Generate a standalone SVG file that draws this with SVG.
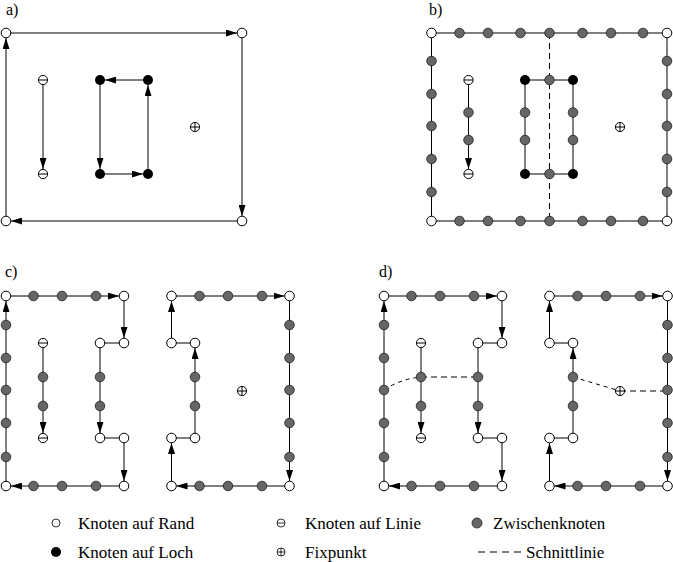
<svg xmlns="http://www.w3.org/2000/svg" xmlns:xlink="http://www.w3.org/1999/xlink" width="673" height="562" viewBox="0 0 673 562">
<style>
.l{stroke:#000;stroke-width:1;fill:none}
.a{marker-end:url(#ah)}
.d{stroke-dasharray:6 4}
.t{font-family:"Liberation Serif","Times New Roman",serif;font-size:17px;fill:#000}
.p{font-family:"Liberation Serif","Times New Roman",serif;font-size:16px;fill:#000}
</style>
<defs>
<marker id="ah" markerUnits="userSpaceOnUse" markerWidth="11" markerHeight="7" refX="11" refY="3.5" orient="auto"><path d="M0,0 L11,3.5 L0,7 z" fill="#000"/></marker>
<circle id="nw" r="4.8" fill="#fff" stroke="#000"/>
<circle id="ng" r="4.8" fill="#666" stroke="#222" stroke-width="0.8"/>
<circle id="nb" r="5" fill="#000"/>
<g id="nm"><circle r="4.6" fill="#fff" stroke="#000"/><path d="M-4.6,0H4.6" stroke="#000"/></g>
<g id="nf"><circle r="4.6" fill="#fff" stroke="#000"/><path d="M-4.6,0H4.6M0,-4.6V4.6" stroke="#000"/></g>
</defs>
<rect width="673" height="562" fill="#fff"/>

<g id="labels">
<text class="p" x="6" y="15">a)</text>
<text class="p" x="429" y="15">b)</text>
<text class="p" x="5" y="277">c)</text>
<text class="p" x="379" y="277">d)</text>
</g>

<g id="connectors">
<!-- a -->
<path class="l a" d="M6,33 H237"/>
<path class="l a" d="M242,33 V216"/>
<path class="l a" d="M242,221 H11"/>
<path class="l a" d="M6,221 V38"/>
<path class="l a" d="M43,80 V169"/>
<path class="l a" d="M148,80 H105"/>
<path class="l a" d="M100,80 V169"/>
<path class="l a" d="M100,174 H143"/>
<path class="l a" d="M148,174 V85"/>
<!-- b -->
<path class="l" d="M431.5,33 H667 V221 H431.5 Z"/>
<path class="l" d="M525,80 H573 V174 H525 Z"/>
<path class="l a" d="M468.5,80 V169"/>
<path class="l d" d="M549.5,33 V221"/>
<!-- c left -->
<path class="l a" d="M6,296 H119"/>
<path class="l a" d="M124,296 V338"/>
<path class="l" d="M124,343 H100"/>
<path class="l a" d="M100,343 V433"/>
<path class="l" d="M100,438 H124"/>
<path class="l a" d="M124,438 V481"/>
<path class="l a" d="M124,486 H11"/>
<path class="l a" d="M6,486 V301"/>
<path class="l a" d="M43,343 V433"/>
<!-- c right -->
<path class="l a" d="M171.5,296 H284.5"/>
<path class="l a" d="M289.5,296 V481"/>
<path class="l a" d="M289.5,486 H176.5"/>
<path class="l a" d="M171.5,486 V443"/>
<path class="l" d="M171.5,438 H195"/>
<path class="l a" d="M195,438 V348"/>
<path class="l" d="M195,343 H171.5"/>
<path class="l a" d="M171.5,343 V301"/>
<!-- d left -->
<path class="l a" d="M384,296 H497"/>
<path class="l a" d="M502,296 V338"/>
<path class="l" d="M502,343 H478"/>
<path class="l a" d="M478,343 V433"/>
<path class="l" d="M478,438 H502"/>
<path class="l a" d="M502,438 V481"/>
<path class="l a" d="M502,486 H389"/>
<path class="l a" d="M384,486 V301"/>
<path class="l a" d="M421,343 V433"/>
<!-- d right -->
<path class="l a" d="M549.5,296 H662.5"/>
<path class="l a" d="M667.5,296 V481"/>
<path class="l a" d="M667.5,486 H554.5"/>
<path class="l a" d="M549.5,486 V443"/>
<path class="l" d="M549.5,438 H573"/>
<path class="l a" d="M573,438 V348"/>
<path class="l" d="M573,343 H549.5"/>
<path class="l a" d="M549.5,343 V301"/>
<!-- d cut lines -->
<path class="l" stroke-dasharray="4 4" d="M384,390 Q400,379 421,377"/>
<path class="l d" d="M421,377 H478"/>
<path class="l" stroke-dasharray="4 4" d="M573,377 L620,391"/>
<path class="l d" d="M620,391 H667.5"/>
<!-- legend -->
<path class="l" stroke-dasharray="7 5" d="M478,552 H522"/>
</g>

<g id="panel-a">
<g id="a_tl"><use xlink:href="#nw" x="6" y="33"/></g>
<g id="a_tr"><use xlink:href="#nw" x="242" y="33"/></g>
<g id="a_bl"><use xlink:href="#nw" x="6" y="221"/></g>
<g id="a_br"><use xlink:href="#nw" x="242" y="221"/></g>
<g id="a_m1"><use xlink:href="#nm" x="43" y="80"/></g>
<g id="a_m2"><use xlink:href="#nm" x="43" y="174"/></g>
<g id="a_h1"><use xlink:href="#nb" x="100" y="80"/></g>
<g id="a_h2"><use xlink:href="#nb" x="148" y="80"/></g>
<g id="a_h3"><use xlink:href="#nb" x="100" y="174"/></g>
<g id="a_h4"><use xlink:href="#nb" x="148" y="174"/></g>
<g id="a_f"><use xlink:href="#nf" x="195" y="127"/></g>
</g>

<g id="panel-b">
<g id="b_tl"><use xlink:href="#nw" x="431.5" y="33"/></g>
<g id="b_tr"><use xlink:href="#nw" x="667" y="33"/></g>
<g id="b_bl"><use xlink:href="#nw" x="431.5" y="221"/></g>
<g id="b_br"><use xlink:href="#nw" x="667" y="221"/></g>
<g id="b_t1"><use xlink:href="#ng" x="459.5" y="33"/></g>
<g id="b_t2"><use xlink:href="#ng" x="488" y="33"/></g>
<g id="b_t3"><use xlink:href="#ng" x="520.5" y="33"/></g>
<g id="b_t4"><use xlink:href="#ng" x="549.5" y="33"/></g>
<g id="b_t5"><use xlink:href="#ng" x="582.5" y="33"/></g>
<g id="b_t6"><use xlink:href="#ng" x="611" y="33"/></g>
<g id="b_t7"><use xlink:href="#ng" x="643" y="33"/></g>
<g id="b_b1"><use xlink:href="#ng" x="459.5" y="221"/></g>
<g id="b_b2"><use xlink:href="#ng" x="488" y="221"/></g>
<g id="b_b3"><use xlink:href="#ng" x="520.5" y="221"/></g>
<g id="b_b4"><use xlink:href="#ng" x="549.5" y="221"/></g>
<g id="b_b5"><use xlink:href="#ng" x="582.5" y="221"/></g>
<g id="b_b6"><use xlink:href="#ng" x="611" y="221"/></g>
<g id="b_b7"><use xlink:href="#ng" x="643" y="221"/></g>
<g id="b_l1"><use xlink:href="#ng" x="431.5" y="61"/></g>
<g id="b_l2"><use xlink:href="#ng" x="431.5" y="94"/></g>
<g id="b_l3"><use xlink:href="#ng" x="431.5" y="126"/></g>
<g id="b_l4"><use xlink:href="#ng" x="431.5" y="159"/></g>
<g id="b_l5"><use xlink:href="#ng" x="431.5" y="192"/></g>
<g id="b_r1"><use xlink:href="#ng" x="667" y="61"/></g>
<g id="b_r2"><use xlink:href="#ng" x="667" y="94"/></g>
<g id="b_r3"><use xlink:href="#ng" x="667" y="126"/></g>
<g id="b_r4"><use xlink:href="#ng" x="667" y="159"/></g>
<g id="b_r5"><use xlink:href="#ng" x="667" y="192"/></g>
<g id="b_m1"><use xlink:href="#nm" x="468.5" y="80"/></g>
<g id="b_m2"><use xlink:href="#nm" x="468.5" y="174"/></g>
<g id="b_lg1"><use xlink:href="#ng" x="468.5" y="112.5"/></g>
<g id="b_lg2"><use xlink:href="#ng" x="468.5" y="140"/></g>
<g id="b_h1"><use xlink:href="#nb" x="525" y="80"/></g>
<g id="b_h2"><use xlink:href="#nb" x="573" y="80"/></g>
<g id="b_h3"><use xlink:href="#nb" x="525" y="174"/></g>
<g id="b_h4"><use xlink:href="#nb" x="573" y="174"/></g>
<g id="b_hg1"><use xlink:href="#ng" x="549.5" y="80"/></g>
<g id="b_hg2"><use xlink:href="#ng" x="549.5" y="174"/></g>
<g id="b_hg3"><use xlink:href="#ng" x="525" y="112.5"/></g>
<g id="b_hg4"><use xlink:href="#ng" x="525" y="140"/></g>
<g id="b_hg5"><use xlink:href="#ng" x="573" y="112.5"/></g>
<g id="b_hg6"><use xlink:href="#ng" x="573" y="140"/></g>
<g id="b_f"><use xlink:href="#nf" x="620" y="127"/></g>
</g>

<g id="panel-c">
<g id="c_tl"><use xlink:href="#nw" x="6" y="296"/></g>
<g id="c_tr"><use xlink:href="#nw" x="124" y="296"/></g>
<g id="c_bl"><use xlink:href="#nw" x="6" y="486"/></g>
<g id="c_br"><use xlink:href="#nw" x="124" y="486"/></g>
<g id="c_t1"><use xlink:href="#ng" x="33.5" y="296"/></g>
<g id="c_t2"><use xlink:href="#ng" x="62" y="296"/></g>
<g id="c_t3"><use xlink:href="#ng" x="96" y="296"/></g>
<g id="c_b1"><use xlink:href="#ng" x="33.5" y="486"/></g>
<g id="c_b2"><use xlink:href="#ng" x="62" y="486"/></g>
<g id="c_b3"><use xlink:href="#ng" x="96" y="486"/></g>
<g id="c_l1"><use xlink:href="#ng" x="6" y="325"/></g>
<g id="c_l2"><use xlink:href="#ng" x="6" y="358"/></g>
<g id="c_l3"><use xlink:href="#ng" x="6" y="390"/></g>
<g id="c_l4"><use xlink:href="#ng" x="6" y="423"/></g>
<g id="c_l5"><use xlink:href="#ng" x="6" y="457"/></g>
<g id="c_i1"><use xlink:href="#nw" x="124" y="343"/></g>
<g id="c_i2"><use xlink:href="#nw" x="100" y="343"/></g>
<g id="c_i3"><use xlink:href="#nw" x="100" y="438"/></g>
<g id="c_i4"><use xlink:href="#nw" x="124" y="438"/></g>
<g id="c_ig1"><use xlink:href="#ng" x="100" y="377"/></g>
<g id="c_ig2"><use xlink:href="#ng" x="100" y="406"/></g>
<g id="c_m1"><use xlink:href="#nm" x="43" y="343"/></g>
<g id="c_m2"><use xlink:href="#nm" x="43" y="438"/></g>
<g id="c_mg1"><use xlink:href="#ng" x="43" y="377"/></g>
<g id="c_mg2"><use xlink:href="#ng" x="43" y="406"/></g>
<g id="c2_tl"><use xlink:href="#nw" x="171.5" y="296"/></g>
<g id="c2_tr"><use xlink:href="#nw" x="289.5" y="296"/></g>
<g id="c2_bl"><use xlink:href="#nw" x="171.5" y="486"/></g>
<g id="c2_br"><use xlink:href="#nw" x="289.5" y="486"/></g>
<g id="c2_t1"><use xlink:href="#ng" x="199.5" y="296"/></g>
<g id="c2_t2"><use xlink:href="#ng" x="228" y="296"/></g>
<g id="c2_t3"><use xlink:href="#ng" x="262" y="296"/></g>
<g id="c2_b1"><use xlink:href="#ng" x="199.5" y="486"/></g>
<g id="c2_b2"><use xlink:href="#ng" x="228" y="486"/></g>
<g id="c2_b3"><use xlink:href="#ng" x="262" y="486"/></g>
<g id="c2_r1"><use xlink:href="#ng" x="289.5" y="325"/></g>
<g id="c2_r2"><use xlink:href="#ng" x="289.5" y="358"/></g>
<g id="c2_r3"><use xlink:href="#ng" x="289.5" y="390"/></g>
<g id="c2_r4"><use xlink:href="#ng" x="289.5" y="423"/></g>
<g id="c2_r5"><use xlink:href="#ng" x="289.5" y="457"/></g>
<g id="c2_i1"><use xlink:href="#nw" x="171.5" y="343"/></g>
<g id="c2_i2"><use xlink:href="#nw" x="195" y="343"/></g>
<g id="c2_i3"><use xlink:href="#nw" x="171.5" y="438"/></g>
<g id="c2_i4"><use xlink:href="#nw" x="195" y="438"/></g>
<g id="c2_ig1"><use xlink:href="#ng" x="195" y="377"/></g>
<g id="c2_ig2"><use xlink:href="#ng" x="195" y="406"/></g>
<g id="c2_f"><use xlink:href="#nf" x="242" y="391"/></g>
</g>

<g id="panel-d">
<g id="d_tl"><use xlink:href="#nw" x="384" y="296"/></g>
<g id="d_tr"><use xlink:href="#nw" x="502" y="296"/></g>
<g id="d_bl"><use xlink:href="#nw" x="384" y="486"/></g>
<g id="d_br"><use xlink:href="#nw" x="502" y="486"/></g>
<g id="d_t1"><use xlink:href="#ng" x="411.5" y="296"/></g>
<g id="d_t2"><use xlink:href="#ng" x="440" y="296"/></g>
<g id="d_t3"><use xlink:href="#ng" x="474" y="296"/></g>
<g id="d_b1"><use xlink:href="#ng" x="411.5" y="486"/></g>
<g id="d_b2"><use xlink:href="#ng" x="440" y="486"/></g>
<g id="d_b3"><use xlink:href="#ng" x="474" y="486"/></g>
<g id="d_l1"><use xlink:href="#ng" x="384" y="325"/></g>
<g id="d_l2"><use xlink:href="#ng" x="384" y="358"/></g>
<g id="d_l3"><use xlink:href="#ng" x="384" y="390"/></g>
<g id="d_l4"><use xlink:href="#ng" x="384" y="423"/></g>
<g id="d_l5"><use xlink:href="#ng" x="384" y="457"/></g>
<g id="d_i1"><use xlink:href="#nw" x="502" y="343"/></g>
<g id="d_i2"><use xlink:href="#nw" x="478" y="343"/></g>
<g id="d_i3"><use xlink:href="#nw" x="478" y="438"/></g>
<g id="d_i4"><use xlink:href="#nw" x="502" y="438"/></g>
<g id="d_ig1"><use xlink:href="#ng" x="478" y="377"/></g>
<g id="d_ig2"><use xlink:href="#ng" x="478" y="406"/></g>
<g id="d_m1"><use xlink:href="#nm" x="421" y="343"/></g>
<g id="d_m2"><use xlink:href="#nm" x="421" y="438"/></g>
<g id="d_mg1"><use xlink:href="#ng" x="421" y="377"/></g>
<g id="d_mg2"><use xlink:href="#ng" x="421" y="406"/></g>
<g id="d2_tl"><use xlink:href="#nw" x="549.5" y="296"/></g>
<g id="d2_tr"><use xlink:href="#nw" x="667.5" y="296"/></g>
<g id="d2_bl"><use xlink:href="#nw" x="549.5" y="486"/></g>
<g id="d2_br"><use xlink:href="#nw" x="667.5" y="486"/></g>
<g id="d2_t1"><use xlink:href="#ng" x="577.5" y="296"/></g>
<g id="d2_t2"><use xlink:href="#ng" x="606" y="296"/></g>
<g id="d2_t3"><use xlink:href="#ng" x="640" y="296"/></g>
<g id="d2_b1"><use xlink:href="#ng" x="577.5" y="486"/></g>
<g id="d2_b2"><use xlink:href="#ng" x="606" y="486"/></g>
<g id="d2_b3"><use xlink:href="#ng" x="640" y="486"/></g>
<g id="d2_r1"><use xlink:href="#ng" x="667.5" y="325"/></g>
<g id="d2_r2"><use xlink:href="#ng" x="667.5" y="358"/></g>
<g id="d2_r3"><use xlink:href="#ng" x="667.5" y="390"/></g>
<g id="d2_r4"><use xlink:href="#ng" x="667.5" y="423"/></g>
<g id="d2_r5"><use xlink:href="#ng" x="667.5" y="457"/></g>
<g id="d2_i1"><use xlink:href="#nw" x="549.5" y="343"/></g>
<g id="d2_i2"><use xlink:href="#nw" x="573" y="343"/></g>
<g id="d2_i3"><use xlink:href="#nw" x="549.5" y="438"/></g>
<g id="d2_i4"><use xlink:href="#nw" x="573" y="438"/></g>
<g id="d2_ig1"><use xlink:href="#ng" x="573" y="377"/></g>
<g id="d2_ig2"><use xlink:href="#ng" x="573" y="406"/></g>
<g id="d2_f"><use xlink:href="#nf" x="620" y="391"/></g>
</g>

<g id="legend">
<g id="lg_rand"><circle cx="56" cy="523" r="4" fill="#fff" stroke="#000" stroke-width="0.8"/><text class="t" x="78" y="529">Knoten auf Rand</text></g>
<g id="lg_loch"><circle cx="56" cy="552" r="5" fill="#000"/><text class="t" x="78" y="558">Knoten auf Loch</text></g>
<g id="lg_linie"><circle cx="281" cy="523" r="4" fill="#fff" stroke="#000" stroke-width="0.8"/><path d="M277,523H285" stroke="#000" stroke-width="0.8"/><text class="t" x="305" y="529">Knoten auf Linie</text></g>
<g id="lg_fix"><circle cx="281" cy="552" r="4" fill="#fff" stroke="#000" stroke-width="0.8"/><path d="M277,552H285M281,548V556" stroke="#000" stroke-width="0.8"/><text class="t" x="305" y="558">Fixpunkt</text></g>
<g id="lg_zw"><circle cx="477" cy="523" r="5" fill="#666" stroke="#222" stroke-width="0.8"/><text class="t" x="493" y="529">Zwischenknoten</text></g>
<g id="lg_schnitt"><text class="t" x="526" y="558">Schnittlinie</text></g>
</g>
</svg>
